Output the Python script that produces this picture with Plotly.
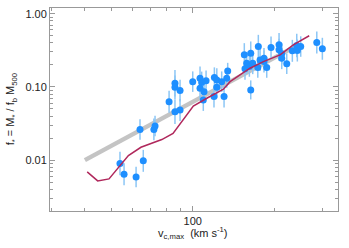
import plotly.graph_objects as go

# Data: galaxy points (v_c,max in km/s, f_star), error in dex
v_pts = [53.9, 55.8, 61.8, 65.7, 63.9, 71.9, 72.6, 81.8, 86.0, 86.0, 89.8, 86.0, 89.8,
         100.0, 106.4, 107.9, 112.0, 106.4, 110.1, 109.4, 120.2, 122.7, 122.7, 119.8,
         127.9, 130.5, 133.5, 134.6, 155.0, 158.2, 163.7, 155.9, 161.8, 166.5, 163.7,
         174.6, 173.8, 177.2, 183.2, 183.2, 187.5, 194.5, 208.2, 208.2, 213.0, 213.0,
         222.3, 233.1, 242.0, 243.2, 250.3, 286.9, 300.8]
f_pts = [0.0090, 0.00643, 0.0059, 0.00978, 0.0263, 0.0263, 0.0292, 0.0629, 0.1124, 0.0991,
         0.0890, 0.0459, 0.0484, 0.118, 0.1316, 0.1146, 0.121, 0.0960, 0.0862, 0.0664,
         0.134, 0.1247, 0.0991, 0.0737, 0.118, 0.0737, 0.1316, 0.1656, 0.274, 0.211,
         0.289, 0.1765, 0.19, 0.211, 0.091, 0.356, 0.184, 0.234, 0.247, 0.222, 0.184,
         0.345, 0.376, 0.321, 0.283, 0.247, 0.2066, 0.311, 0.368, 0.314, 0.356, 0.404, 0.332]
err_dex = [0.16, 0.15, 0.14, 0.15, 0.14, 0.15, 0.14, 0.15, 0.18, 0.16, 0.15, 0.17, 0.15,
           0.14, 0.16, 0.15, 0.14, 0.15, 0.14, 0.15, 0.14, 0.16, 0.15, 0.15,
           0.14, 0.15, 0.13, 0.11, 0.16, 0.15, 0.16, 0.15, 0.14, 0.15, 0.13,
           0.16, 0.14, 0.15, 0.14, 0.15, 0.14, 0.15, 0.16, 0.15, 0.14, 0.15,
           0.14, 0.15, 0.16, 0.15, 0.14, 0.15, 0.15]

# Model curve (red)
v_model = [40.8, 44.6, 49.1, 57.9, 64.4, 72.6, 76.9, 84.6, 92.3, 100.5, 112.7, 129.8,
           137.3, 149.5, 162.7, 182.3, 210.0, 235.0, 269.0]
f_model = [0.00692, 0.0052, 0.00554, 0.01153, 0.01497, 0.0178, 0.0191, 0.0232, 0.0353,
           0.0549, 0.070, 0.093, 0.118, 0.146, 0.180, 0.222, 0.274, 0.376, 0.50]

# Power-law fit (grey)
v_fit = [40, 245]
f_fit = [0.01, 0.375]

err_plus = [f * (10 ** e - 1) for f, e in zip(f_pts, err_dex)]
err_minus = [f * (1 - 10 ** -e) for f, e in zip(f_pts, err_dex)]

fig = go.Figure()
fig.add_trace(go.Scatter(x=v_fit, y=f_fit, mode="lines",
                         line=dict(color="#c4c4c4", width=4.5), showlegend=False))
fig.add_trace(go.Scatter(x=v_pts, y=f_pts, mode="markers",
                         marker=dict(color="#1e8fff", size=7),
                         error_y=dict(type="data", array=err_plus, arrayminus=err_minus,
                                      color="#8cc6f5", thickness=1.5, width=0),
                         showlegend=False))
fig.add_trace(go.Scatter(x=v_model, y=f_model, mode="lines",
                         line=dict(color="#b0285c", width=1.5), showlegend=False))

xminor = [30, 40, 50, 60, 70, 80, 90, 200, 300]
yminor = [0.003, 0.004, 0.005, 0.006, 0.007, 0.008, 0.009,
          0.02, 0.03, 0.04, 0.05, 0.06, 0.07, 0.08, 0.09,
          0.2, 0.3, 0.4, 0.5, 0.6, 0.7, 0.8, 0.9]

axis_common = dict(showgrid=False, zeroline=False, showline=True, linecolor="#999999",
                   linewidth=1, mirror="ticks", ticks="inside", tickcolor="#999999",
                   ticklen=5, tickwidth=1, tickfont=dict(size=11, color="#222222"),
                   automargin=False)

fig.update_layout(
    width=349, height=248,
    margin=dict(l=50, r=11, t=8, b=37),
    plot_bgcolor="white", paper_bgcolor="white",
    font=dict(family="Liberation Sans, Arial, sans-serif", color="#222222"),
    xaxis=dict(type="log", range=[1.4734, 2.536], tickmode="array", tickvals=[100],
               ticktext=["100"],
               minor=dict(tickmode="array", tickvals=xminor, ticks="inside", ticklen=3,
                          tickcolor="#999999", showgrid=False),
               **axis_common),
    yaxis=dict(type="log", range=[-2.695, 0.078], tickmode="array",
               tickvals=[0.01, 0.1, 1], ticktext=["0.01", "0.10", "1.00"],
               minor=dict(tickmode="array", tickvals=yminor, ticks="inside", ticklen=3,
                          tickcolor="#999999", showgrid=False),
               **axis_common),
    annotations=[
        dict(text="v<sub>c,max</sub>  (km s<sup>-1</sup>)", xref="paper", yref="paper",
             x=0.495, y=-0.058, xanchor="center", yanchor="top", showarrow=False,
             font=dict(size=11)),
        dict(text="f<sub>*</sub> = M<sub>*</sub> / f<sub>b</sub> M<sub>500</sub>",
             xref="paper", yref="paper", x=-0.105, y=0.5, xanchor="right",
             yanchor="middle", textangle=-90, showarrow=False, font=dict(size=11)),
    ],
)

fig.write_html("out.html", config={"displayModeBar": False},
               post_script="document.body.style.margin='0';document.body.style.overflow='hidden';")
